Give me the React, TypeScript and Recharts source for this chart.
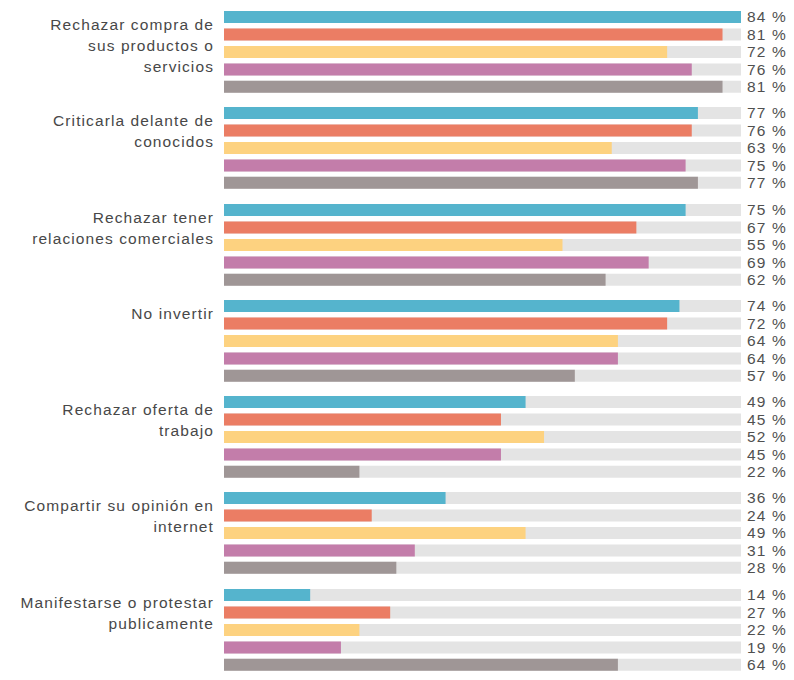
import {BarChart, Bar, XAxis, YAxis, Cell} from 'recharts';

const categories = [
    "Rechazar compra de\nsus productos o\nservicios",
    "Criticarla delante de\nconocidos",
    "Rechazar tener\nrelaciones comerciales",
    "No invertir",
    "Rechazar oferta de\ntrabajo",
    "Compartir su opinión en\ninternet",
    "Manifestarse o protestar\npublicamente",
];

// five series per category, top to bottom
const blue = [84, 77, 75, 74, 49, 36, 14];
const orange = [81, 76, 67, 72, 45, 24, 27];
const yellow = [72, 63, 55, 64, 52, 49, 22];
const purple = [76, 75, 69, 64, 45, 31, 19];
const grey = [81, 77, 62, 57, 22, 28, 64];

const seriesKeys = ["a", "b", "c", "d", "e"];
const seriesValues = [blue, orange, yellow, purple, grey];
const seriesColors = ["#55b4cd", "#eb7d64", "#fdd280", "#c37daa", "#9f9696"];

const FONT = '"Liberation Sans", Arial, sans-serif';
const GROUP_H = 96.3;

const Group = ({index}: { index: number }) => {
    const data = seriesKeys.map((k, i) => ({key: k, value: seriesValues[i][index], color: seriesColors[i]}));

    return <div style={{position: "relative", height: GROUP_H}}>
        <div style={{
            position: "absolute", left: 0, top: 6, width: 206, textAlign: "right",
            whiteSpace: "pre-line", fontFamily: FONT, fontSize: 15.5, lineHeight: "21px",
            letterSpacing: 1.1, color: "#484848"
        }}>
            {categories[index]}
        </div>
        <div style={{position: "absolute", left: 0, top: 0}}>
            <BarChart width={778} height={GROUP_H} data={data} layout="vertical"
                      margin={{top: 0, right: 0, bottom: 9, left: 216}} barCategoryGap={0}>
                <XAxis type="number" hide domain={[0, 84]}/>
                <YAxis yAxisId="left" type="category" dataKey="key" width={0} tick={false} tickLine={false}
                       axisLine={{stroke: "#d6d6d6"}}/>
                <YAxis yAxisId="right" orientation="right" type="category" dataKey="key" width={45}
                       tickLine={false} axisLine={false} tickSize={6} tickMargin={0} interval={0}
                       tick={{fill: "#505050", fontSize: 15.5, fontFamily: FONT, letterSpacing: 1.2}}
                       tickFormatter={(_v: any, i: number) => `${data[i]?.value} %`}/>
                <Bar yAxisId="left" dataKey="value" barSize={12} isAnimationActive={false}
                     background={{fill: "#e4e4e4"}}>
                    {data.map((d, i) => <Cell key={`cell-${i}`} fill={d.color}/>)}
                </Bar>
            </BarChart>
        </div>
    </div>
}

export default function App() {
    return <div style={{width: 778}}>
        {categories.map((_c, i) => <Group key={i} index={i}/>)}
    </div>
}
